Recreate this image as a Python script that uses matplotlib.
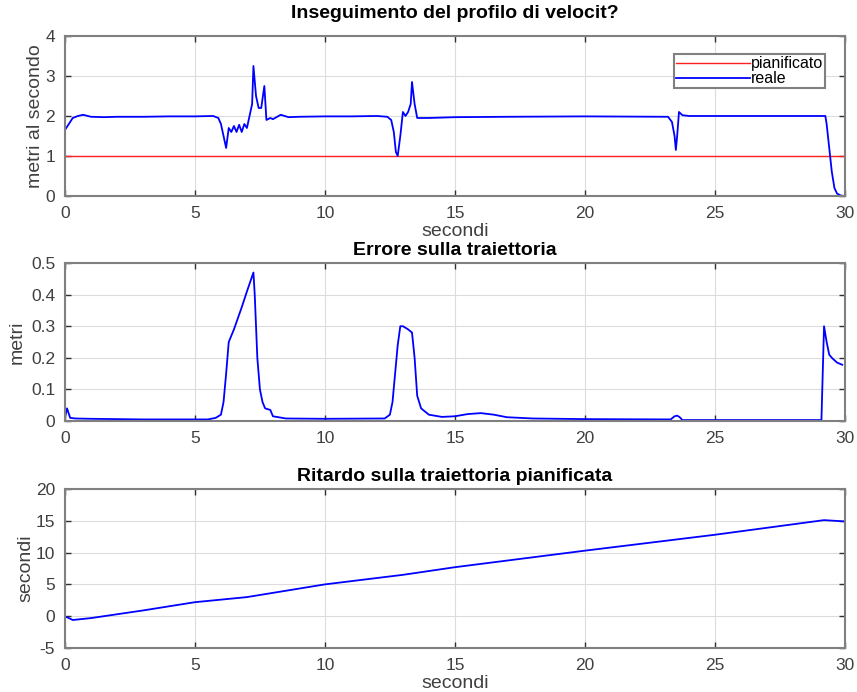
import matplotlib
matplotlib.use('Agg')
import matplotlib.pyplot as plt

plt.rcParams['font.family'] = ['Liberation Sans', 'DejaVu Sans']
plt.rcParams['axes.unicode_minus'] = False

# Velocita: riferimento e reale
t_vel = [0, 0.1, 0.3, 0.5, 0.7, 1.0, 1.5, 2.0, 3.0, 4.0, 5.0, 5.7, 5.9, 6.0, 6.1, 6.2,
         6.3, 6.4, 6.5, 6.6, 6.7, 6.8, 6.9, 7.0, 7.1, 7.2, 7.25, 7.35, 7.45, 7.55, 7.67,
         7.75, 7.9, 8.0, 8.3, 8.6, 9.0, 10.0, 11.0, 12.0, 12.4, 12.55, 12.65, 12.73, 12.8,
         12.9, 13.0, 13.1, 13.2, 13.3, 13.35, 13.45, 13.55, 14.0, 15.0, 17.0, 20.0, 23.2,
         23.35, 23.45, 23.5, 23.55, 23.62, 23.75, 24.0, 26.0, 29.25, 29.3, 29.4, 29.5,
         29.6, 29.7, 29.85, 30.0]
v_real = [1.65, 1.75, 1.95, 2.0, 2.03, 1.98, 1.97, 1.98, 1.98, 1.99, 1.99, 2.0, 1.95, 1.8,
          1.5, 1.2, 1.7, 1.6, 1.75, 1.6, 1.78, 1.6, 1.8, 1.7, 2.0, 2.3, 3.25, 2.5, 2.2, 2.2,
          2.75, 1.9, 1.95, 1.92, 2.03, 1.97, 1.98, 1.99, 1.99, 2.0, 1.98, 1.9, 1.6, 1.1,
          1.0, 1.5, 2.1, 2.0, 2.1, 2.3, 2.85, 2.3, 1.95, 1.95, 1.97, 1.98, 1.99, 1.98,
          1.85, 1.5, 1.15, 1.5, 2.1, 2.02, 2.0, 2.0, 2.0, 1.8, 1.2, 0.6, 0.2, 0.06, 0.01, 0.0]
t_plan = [0, 30]
v_plan = [1, 1]

# Errore sulla traiettoria
t_err = [0, 0.08, 0.2, 0.4, 1.0, 3.0, 5.5, 5.8, 6.0, 6.1, 6.2, 6.3, 6.5, 6.8, 7.0, 7.25,
         7.3, 7.4, 7.5, 7.6, 7.7, 7.9, 8.0, 8.5, 10.0, 12.3, 12.5, 12.6, 12.7, 12.8, 12.9,
         13.0, 13.2, 13.35, 13.45, 13.55, 13.7, 14.0, 14.5, 15.0, 15.5, 16.0, 16.5, 17.0,
         18.0, 20.0, 23.3, 23.45, 23.55, 23.65, 23.75, 29.1, 29.2, 29.3, 29.4, 29.5, 29.7,
         29.9]
err = [0.01, 0.04, 0.01, 0.008, 0.007, 0.005, 0.005, 0.01, 0.02, 0.06, 0.15, 0.25, 0.29,
       0.36, 0.41, 0.47, 0.4, 0.2, 0.1, 0.06, 0.04, 0.035, 0.015, 0.008, 0.007, 0.008, 0.02,
       0.06, 0.15, 0.24, 0.3, 0.3, 0.29, 0.28, 0.2, 0.08, 0.04, 0.02, 0.013, 0.015, 0.022,
       0.025, 0.02, 0.012, 0.008, 0.006, 0.005, 0.015, 0.017, 0.012, 0.003, 0.003, 0.3,
       0.25, 0.21, 0.2, 0.185, 0.178]

# Ritardo sulla traiettoria pianificata
t_rit = [0, 0.1, 0.3, 1.0, 3.0, 5.0, 7.0, 10.0, 13.0, 15.0, 20.0, 25.0, 29.2, 30.0]
ritardo = [-0.1, -0.2, -0.6, -0.3, 0.9, 2.2, 3.0, 5.0, 6.5, 7.7, 10.3, 12.8, 15.1, 14.9]

grey = '#808080'
txt = '#404040'


def matlab_style(ax):
    ax.grid(True, color='#dcdcdc', linewidth=0.8)
    ax.set_axisbelow(True)
    for s in ax.spines.values():
        s.set_color(grey)
        s.set_linewidth(1.5)
    ax.tick_params(direction='in', top=True, right=True, length=4, width=1,
                   color='#303030', labelsize=12.5, labelcolor=txt, pad=7)
    ax.set_xlim(0, 30)
    ax.set_xticks([0, 5, 10, 15, 20, 25, 30])


fig = plt.figure(figsize=(8.57, 6.92), dpi=100)
ax1 = fig.add_axes([0.0758, 0.7168, 0.910, 0.2312])
ax2 = fig.add_axes([0.0758, 0.3916, 0.910, 0.2283])
ax3 = fig.add_axes([0.0758, 0.0636, 0.910, 0.2298])

ax1.plot(t_plan, v_plan, color='#ff2020', linewidth=1.0, label='pianificato')
ax1.plot(t_vel, v_real, color='#0000ff', linewidth=1.3, label='reale')
matlab_style(ax1)
ax1.set_ylim(0, 4)
ax1.set_yticks([0, 1, 2, 3, 4])
ax1.set_title('Inseguimento del profilo di velocit?', fontsize=14, fontweight='bold', pad=13)
ax1.set_xlabel('secondi', fontsize=14, color=txt, labelpad=2)
ax1.set_ylabel('metri al secondo', fontsize=14, color=txt, labelpad=1)
leg = ax1.legend(loc='upper right', bbox_to_anchor=(0.975, 0.885), fontsize=11.5,
                 handlelength=4.6, handletextpad=0.1, labelspacing=0, borderpad=0.12,
                 borderaxespad=0, fancybox=False, framealpha=1)
leg.get_frame().set_edgecolor(grey)
leg.get_frame().set_linewidth(1.5)

ax2.plot(t_err, err, color='#0000ff', linewidth=1.3)
matlab_style(ax2)
ax2.set_ylim(0, 0.5)
ax2.set_yticks([0, 0.1, 0.2, 0.3, 0.4, 0.5])
ax2.set_yticklabels(['0', '0.1', '0.2', '0.3', '0.4', '0.5'])
ax2.set_title('Errore sulla traiettoria', fontsize=14, fontweight='bold', pad=6)
ax2.set_ylabel('metri', fontsize=14, color=txt, labelpad=4)

ax3.plot(t_rit, ritardo, color='#0000ff', linewidth=1.3)
matlab_style(ax3)
ax3.set_ylim(-5, 20)
ax3.set_yticks([-5, 0, 5, 10, 15, 20])
ax3.set_title('Ritardo sulla traiettoria pianificata', fontsize=14, fontweight='bold', pad=6)
ax3.set_xlabel('secondi', fontsize=14, color=txt, labelpad=2)
ax3.set_ylabel('secondi', fontsize=14, color=txt, labelpad=1)

fig.savefig('out.png', dpi=100)
